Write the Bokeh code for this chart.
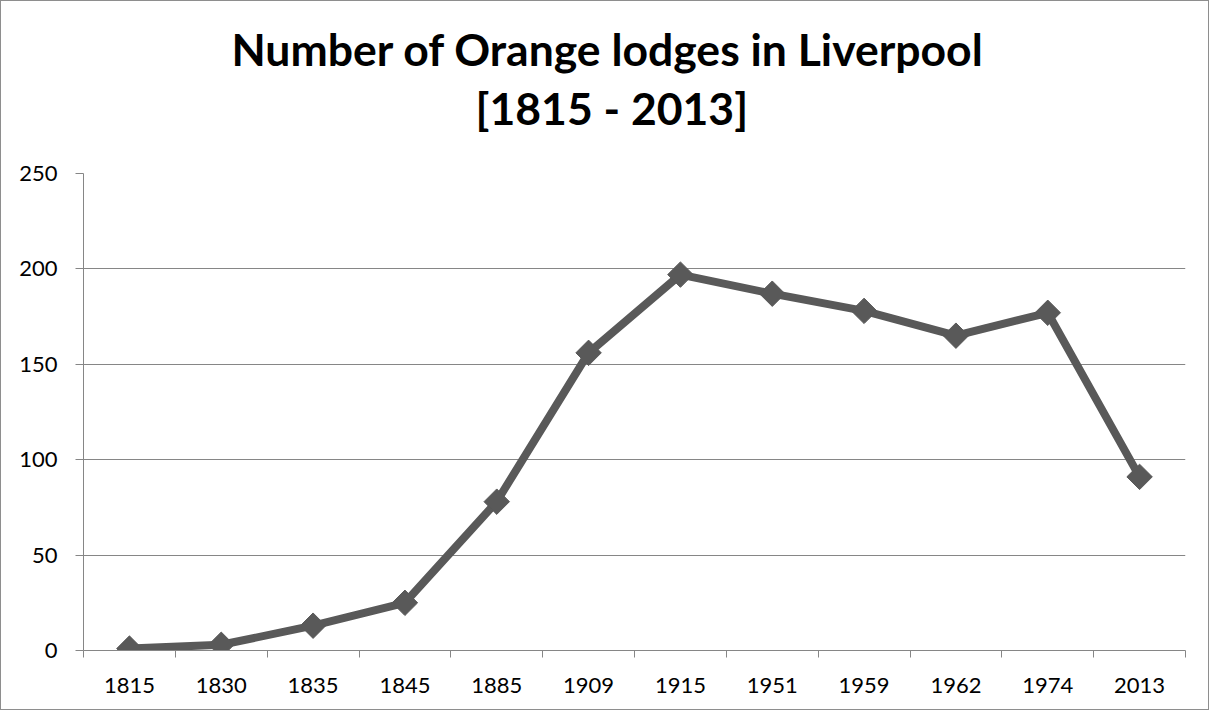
import math
from bokeh.plotting import figure
from bokeh.models import Range1d, FixedTicker, Title
from bokeh.embed import file_html
from bokeh.resources import INLINE

years = ["1815", "1830", "1835", "1845", "1885", "1909", "1915", "1951", "1959", "1962", "1974", "2013"]
lodges = [1, 3, 13, 25, 78, 156, 197, 187, 178, 165, 177, 91]
y_ticks = [0, 50, 100, 150, 200, 250]
title_lines = ["Number of Orange lodges in Liverpool", "[1815 - 2013]"]

n = len(years)
xpos = [i + 0.5 for i in range(n)]
bounds = list(range(n + 1))

GREY = "#868686"
LINE = "#595959"
FONT = "Lato"

p = figure(width=1209, height=710, output_backend="svg", toolbar_location=None,
           x_range=Range1d(0, n), y_range=Range1d(0, 250),
           min_border_left=82, min_border_right=25, min_border_top=172, min_border_bottom=61)
p.styles = {"border": "1px solid #8e8e8e"}
p.outline_line_color = None
p.background_fill_color = "white"
p.border_fill_color = "white"

p.xgrid.grid_line_color = None
p.ygrid.grid_line_color = GREY
p.ygrid.grid_line_width = 1
p.ygrid.ticker = FixedTicker(ticks=y_ticks)

xa = p.xaxis[0]
xa.ticker = FixedTicker(ticks=xpos, minor_ticks=bounds)
xa.major_label_overrides = {x: y for x, y in zip(xpos, years)}
xa.major_tick_line_color = None
xa.minor_tick_out = 7
xa.minor_tick_in = 0
xa.minor_tick_line_color = GREY
xa.axis_line_color = GREY
xa.major_label_text_font = FONT
xa.major_label_text_font_size = "22px"
xa.major_label_text_color = "black"
xa.major_label_standoff = 20

ya = p.yaxis[0]
ya.ticker = FixedTicker(ticks=y_ticks)
ya.major_tick_out = 8
ya.major_tick_in = 0
ya.major_tick_line_color = GREY
ya.minor_tick_line_color = None
ya.axis_line_color = GREY
ya.major_label_text_font = FONT
ya.major_label_text_font_size = "22px"
ya.major_label_text_color = "black"
ya.major_label_standoff = 18

p.line(xpos, lodges, line_width=8, line_color=LINE, line_join="round")
p.scatter(xpos, lodges, marker="square", angle=math.pi / 4, size=18,
          fill_color=LINE, line_color=LINE)

p.title = None
# spacer between frame and the title lines
p.add_layout(Title(text=" ", text_font_size="1px", standoff=37), "above")
for txt, so, off in [(title_lines[1], 0, 392), (title_lines[0], 8, 148)]:
    p.add_layout(Title(text=txt, align="left", offset=off, standoff=so,
                       text_font=FONT, text_font_style="bold", text_font_size="44.5px",
                       text_color="black"), "above")

open("out.html", "w").write(file_html(p, INLINE))
